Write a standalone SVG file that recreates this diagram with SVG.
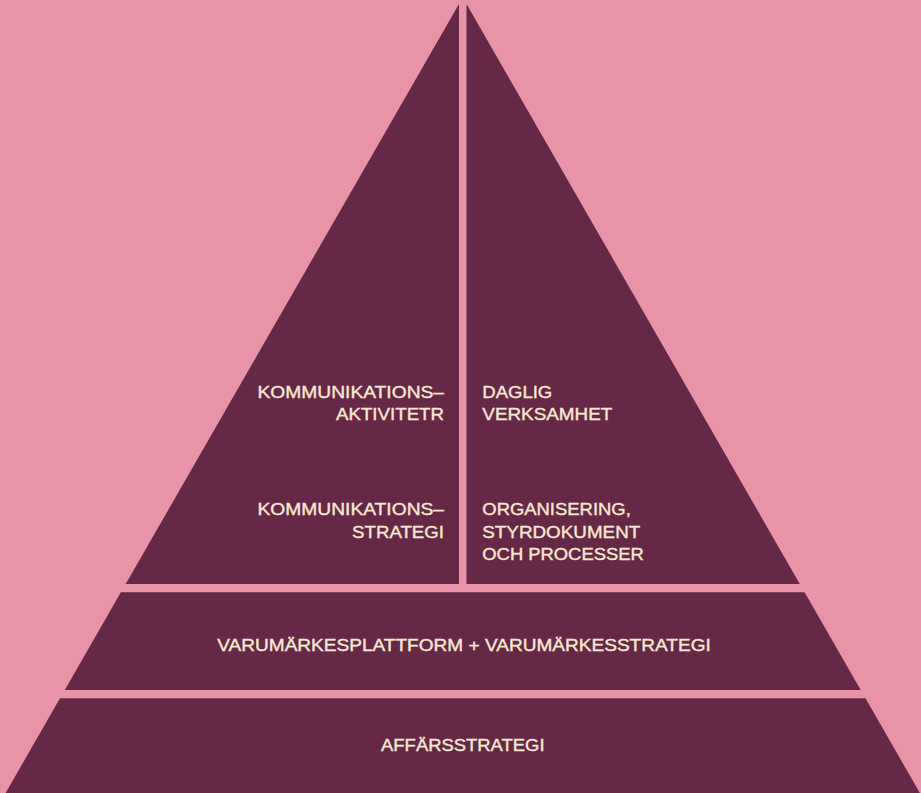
<svg xmlns="http://www.w3.org/2000/svg" width="921" height="793" viewBox="0 0 921 793">
  <style>
    .bg { fill: #E993A8; }
    .block { fill: #652846; }
    .lbl { font-family: "Liberation Sans", Arial, sans-serif; font-size: 16px; fill: #FCE8D3; stroke: #FCE8D3; stroke-width: 0.35px; }
    .end { text-anchor: end; }
    .mid { text-anchor: middle; }
  </style>
  <rect class="bg" x="0" y="0" width="921" height="793"/>

  <g id="left-top">
    <polygon class="block" points="459,4 459,584 125.7,584"/>
    <text class="lbl end" transform="translate(444 397.5) scale(1.17 1)" textLength="159.4" lengthAdjust="spacingAndGlyphs">KOMMUNIKATIONS–</text>
    <text class="lbl end" transform="translate(444 419.5) scale(1.17 1)" textLength="92.3" lengthAdjust="spacingAndGlyphs">AKTIVITETR</text>
    <text class="lbl end" transform="translate(444 515) scale(1.17 1)" textLength="159.4" lengthAdjust="spacingAndGlyphs">KOMMUNIKATIONS–</text>
    <text class="lbl end" transform="translate(444 537.5) scale(1.17 1)" textLength="78.6" lengthAdjust="spacingAndGlyphs">STRATEGI</text>
  </g>

  <g id="right-top">
    <polygon class="block" points="466.5,4 466.5,584 799.8,584"/>
    <text class="lbl" transform="translate(482.3 397.5) scale(1.17 1)" textLength="59.8" lengthAdjust="spacingAndGlyphs">DAGLIG</text>
    <text class="lbl" transform="translate(482.3 419.5) scale(1.17 1)" textLength="111.1" lengthAdjust="spacingAndGlyphs">VERKSAMHET</text>
    <text class="lbl" transform="translate(482.3 515) scale(1.17 1)" textLength="126.9" lengthAdjust="spacingAndGlyphs">ORGANISERING,</text>
    <text class="lbl" transform="translate(482.3 537.5) scale(1.17 1)" textLength="135" lengthAdjust="spacingAndGlyphs">STYRDOKUMENT</text>
    <text class="lbl" transform="translate(482.3 560) scale(1.17 1)" textLength="138" lengthAdjust="spacingAndGlyphs">OCH PROCESSER</text>
  </g>

  <g id="middle-band">
    <polygon class="block" points="120.9,592.3 804.6,592.3 860.7,690 64.8,690"/>
    <text class="lbl mid" transform="translate(464 651) scale(1.17 1)" textLength="421.8" lengthAdjust="spacingAndGlyphs">VARUMÄRKESPLATTFORM + VARUMÄRKESSTRATEGI</text>
  </g>

  <g id="bottom-band">
    <polygon class="block" points="60,698.3 865.5,698.3 923.9,800 1.6,800"/>
    <text class="lbl mid" transform="translate(462.8 751) scale(1.17 1)" textLength="139.7" lengthAdjust="spacingAndGlyphs">AFFÄRSSTRATEGI</text>
  </g>
</svg>
